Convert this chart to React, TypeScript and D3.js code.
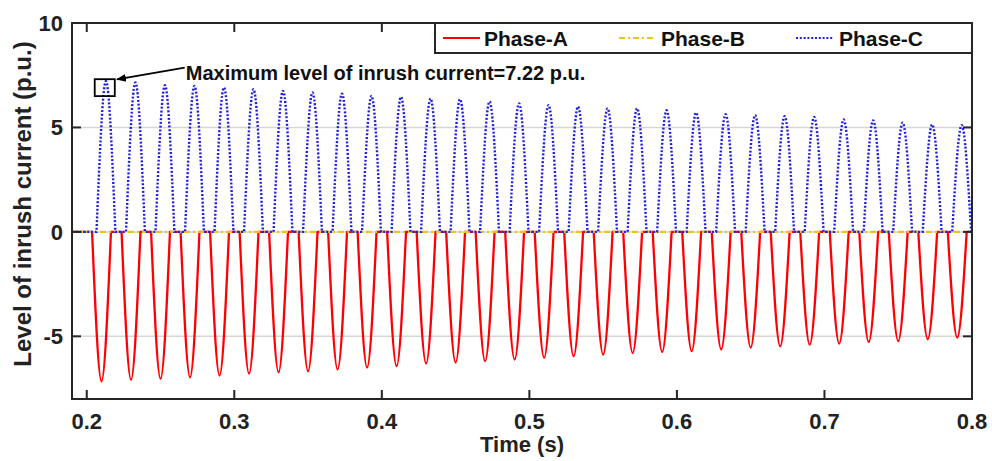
import React from 'react';
import * as d3 from 'd3';

// axis ticks
const xTicks = [0.2, 0.3, 0.4, 0.5, 0.6, 0.7, 0.8];
const yTicks = [-5, 0, 5, 10];
const timeRange = [0.19, 0.8];
const valueRange = [-8, 10];

// Phase-A : negative lobes (time of trough, value)
const phaseATimes = [0.21, 0.23, 0.25, 0.27, 0.29, 0.31, 0.33, 0.35, 0.37, 0.39, 0.41, 0.43, 0.45, 0.47, 0.49,
  0.51, 0.53, 0.55, 0.57, 0.59, 0.61, 0.63, 0.65, 0.67, 0.69, 0.71, 0.73, 0.75, 0.77, 0.79];
const phaseAValues = [-7.15, -7.08, -7.03, -6.96, -6.88, -6.79, -6.72, -6.67, -6.59, -6.5, -6.43, -6.31, -6.26, -6.19, -6.11,
  -6.03, -5.96, -5.88, -5.8, -5.75, -5.71, -5.63, -5.54, -5.48, -5.4, -5.35, -5.27, -5.23, -5.14, -5.06];

// Phase-B : stays at zero
const phaseBTimes = [0.19, 0.8];
const phaseBValues = [0, 0];

// Phase-C : positive lobes (time of peak, value)
const phaseCTimes = [0.213, 0.233, 0.253, 0.273, 0.293, 0.313, 0.333, 0.353, 0.373, 0.393, 0.413, 0.433, 0.453, 0.473, 0.493,
  0.513, 0.533, 0.553, 0.573, 0.593, 0.613, 0.633, 0.653, 0.673, 0.693, 0.713, 0.733, 0.753, 0.773, 0.793];
const phaseCValues = [7.22, 7.15, 7.02, 6.99, 6.91, 6.83, 6.75, 6.67, 6.62, 6.51, 6.46, 6.38, 6.35, 6.24, 6.15,
  6.07, 6.0, 5.91, 5.91, 5.82, 5.71, 5.63, 5.59, 5.54, 5.5, 5.38, 5.34, 5.23, 5.14, 5.11];
const lobeHalfWidth = 0.0064;

const seriesNames = ['Phase-A', 'Phase-B', 'Phase-C'];
const seriesColors = ['#ff0000', '#f0c020', '#2020e0'];

const annotationText = 'Maximum level of inrush current=7.22 p.u.';
const xLabel = 'Time (s)';
const yLabel = 'Level of inrush current (p.u.)';

const W = 992, H = 461;
const left = 72, right = 972, top = 23, bottom = 399;
const font = '"Liberation Sans", Arial, sans-serif';
const axisColor = '#262626';

const x = d3.scaleLinear().domain(timeRange).range([left, right]);
const y = d3.scaleLinear().domain(valueRange).range([bottom, top]);

const lobe = d3.line<[number, number]>()
  .x(d => x(d[0]))
  .y(d => y(d[1]))
  .curve(d3.curveMonotoneX);

function lobeSeries(times: number[], values: number[]) {
  let d = `M${x(timeRange[0])},${y(0)}`;
  times.forEach((t, i) => {
    const seg = lobe([[t - lobeHalfWidth, 0], [t, values[i]], [t + lobeHalfWidth, 0]]) as string;
    d += 'L' + seg.slice(1);
  });
  d += `L${x(timeRange[1])},${y(0)}`;
  return d;
}

export default function App() {
  const pathA = lobeSeries(phaseATimes, phaseAValues);
  const pathC = lobeSeries(phaseCTimes, phaseCValues);
  const pathB = d3.line<number>().x(d => x(d)).y((d, i) => y(phaseBValues[i]))(phaseBTimes) as string;

  // annotation geometry in data units
  const boxX = [0.2054, 0.219];
  const boxY = [6.5, 7.31];
  const tail = [0.2664, 7.86];
  const tip = [0.2205, 7.3];

  const tickLen = 9;
  const legend = { x0: 435, x1: 972, y0: 23, y1: 53 };
  const legendItems = [
    { lx: 443, tx: 484 },
    { lx: 619, tx: 661 },
    { lx: 796, tx: 839 },
  ];
  const dashes = [undefined, '6,3,2,3', '2,1.8'];

  return (
    <svg width={W} height={H} style={{ position: 'absolute', left: 0, top: 0, background: '#fff' }}
      fontFamily={font} fontWeight="bold">
      <defs>
        <clipPath id="plotArea">
          <rect x={left} y={top} width={right - left} height={bottom - top} />
        </clipPath>
        <marker id="arrowHead" viewBox="0 0 10 10" refX="9" refY="5" markerWidth="10" markerHeight="10"
          markerUnits="userSpaceOnUse" orient="auto">
          <path d="M0,1 L10,5 L0,9 Z" fill="#000" />
        </marker>
      </defs>

      {/* grid */}
      {yTicks.map(v => (
        <line key={'g' + v} x1={left} x2={right} y1={y(v)} y2={y(v)} stroke="#d6d6d6" strokeWidth={1.5} />
      ))}

      {/* series */}
      <g clipPath="url(#plotArea)" fill="none">
        <path d={pathA} stroke={seriesColors[0]} strokeWidth={2.3} strokeLinejoin="round" />
        <path d={pathB} stroke={seriesColors[1]} strokeWidth={2.2} strokeDasharray={dashes[1]} />
        <path d={pathC} stroke={seriesColors[2]} strokeWidth={2.4} strokeDasharray={dashes[2]} />
      </g>

      {/* frame */}
      <rect x={left} y={top} width={right - left} height={bottom - top} fill="none" stroke={axisColor} strokeWidth={2} />
      {xTicks.map(v => (
        <g key={'x' + v}>
          <line x1={x(v)} x2={x(v)} y1={bottom} y2={bottom - tickLen} stroke={axisColor} strokeWidth={2} />
          <line x1={x(v)} x2={x(v)} y1={top} y2={top + tickLen} stroke={axisColor} strokeWidth={2} />
          <text x={x(v)} y={429} textAnchor="middle" fontSize={22} fill="#222">{d3.format('.1f')(v)}</text>
        </g>
      ))}
      {yTicks.map(v => (
        <g key={'y' + v}>
          <line x1={left} x2={left + tickLen} y1={y(v)} y2={y(v)} stroke={axisColor} strokeWidth={2} />
          <line x1={right} x2={right - tickLen} y1={y(v)} y2={y(v)} stroke={axisColor} strokeWidth={2} />
          <text x={63} y={y(v)} dy="0.36em" textAnchor="end" fontSize={22} fill="#222">{v}</text>
        </g>
      ))}

      {/* axis titles */}
      <text x={(left + right) / 2} y={452} textAnchor="middle" fontSize={22} fill="#222">{xLabel}</text>
      <text transform={`translate(31,204) rotate(-90)`} textAnchor="middle" fontSize={24} fill="#222">{yLabel}</text>

      {/* annotation */}
      <rect x={x(boxX[0])} y={y(boxY[1])} width={x(boxX[1]) - x(boxX[0])} height={y(boxY[0]) - y(boxY[1])}
        fill="none" stroke="#000" strokeWidth={1.8} />
      <line x1={x(tail[0])} y1={y(tail[1])} x2={x(tip[0])} y2={y(tip[1])} stroke="#000" strokeWidth={1.8}
        markerEnd="url(#arrowHead)" />
      <text x={x(tail[0]) + 1} y={80} fontSize={20} fill="#111">{annotationText}</text>

      {/* legend */}
      <rect x={legend.x0} y={legend.y0} width={legend.x1 - legend.x0} height={legend.y1 - legend.y0}
        fill="#fff" stroke={axisColor} strokeWidth={2} />
      {legendItems.map((it, i) => (
        <g key={seriesNames[i]}>
          <line x1={it.lx} x2={it.lx + 37} y1={38} y2={38} stroke={seriesColors[i]} strokeWidth={2.2}
            strokeDasharray={dashes[i]} />
          <text x={it.tx} y={38} dy="0.36em" fontSize={21} fill="#111">{seriesNames[i]}</text>
        </g>
      ))}
    </svg>
  );
}
